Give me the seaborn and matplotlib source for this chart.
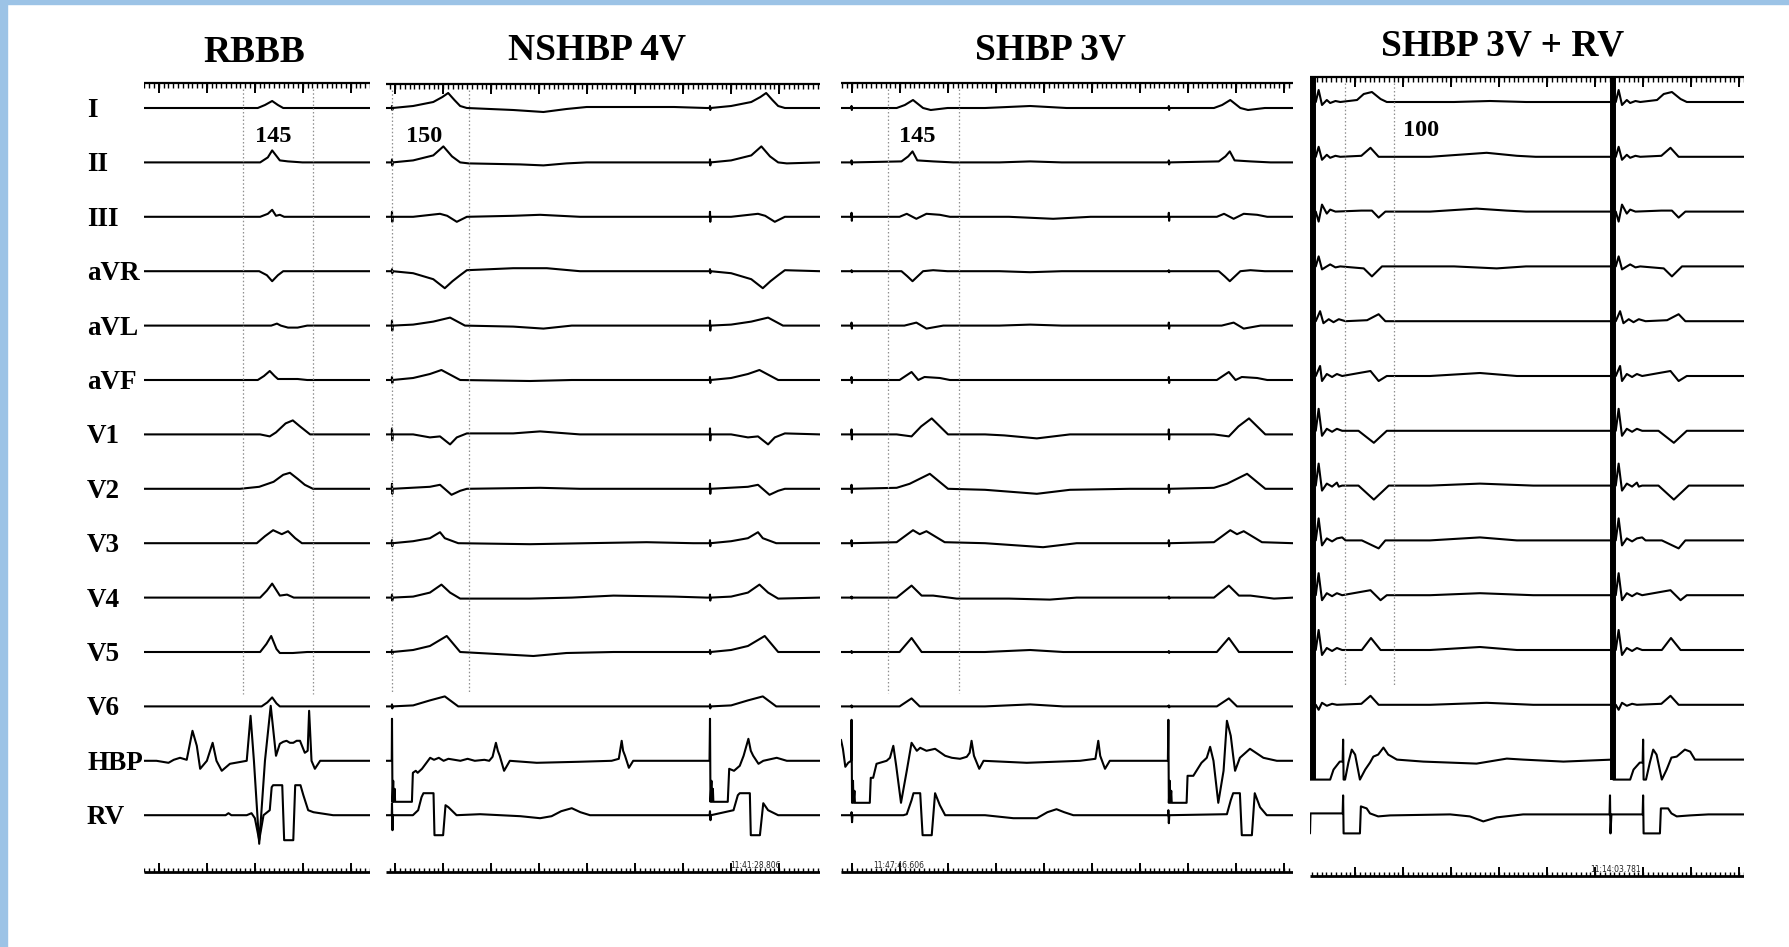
import numpy as np
import pandas as pd
import matplotlib
matplotlib.use("Agg")
import matplotlib.pyplot as plt
from matplotlib.patches import Rectangle
import seaborn as sns

# ---------------------------------------------------------------- data ----
LEADS = ["I", "II", "III", "aVR", "aVL", "aVF", "V1", "V2", "V3", "V4", "V5", "V6", "HBP", "RV"]
TITLES = ["RBBB", "NSHBP 4V", "SHBP 3V", "SHBP 3V + RV"]
QRS_MS = [145, 150, 145, 100]                 # printed QRS durations
QRS_ONSET = [206, 12, 98, 73]                 # ms, dotted calipers
QRS_OFFSET = [352, 173, 246, 175]
DURATION = [471, 904, 942, 904]               # ms shown per panel
STIMS = [[0], [12.5, 675], [22, 683], [7, 632]]   # pacing stimuli (ms)
TIMESTAMPS = [None, "11:41:28.806", "11:47:46.606", "11:14:03.781"]
TIMESTAMP_T = [None, 717, 67, 583]

# RBBB: single conducted beat, absolute ms, amplitude in 0.05 mV units
RBBB = {
    "I":   [(237, 0), (252, 3), (267, 7), (279, 3), (290, 0)],
    "II":  [(242, 0), (258, 5), (267, 12), (283, 2), (300, 1), (330, 0)],
    "III": [(242, 0), (258, 3), (267, 7), (275, 1), (283, 2), (292, 0)],
    "aVR": [(240, 0), (256, -4), (267, -10), (279, -4), (290, 0)],
    "aVL": [(265, 0), (277, 2), (285, 0), (300, -2), (320, -2), (340, 0)],
    "aVF": [(237, 0), (250, 4), (262, 9), (272, 4), (279, 1), (320, 1), (340, 0)],
    "V1":  [(242, 0), (262, -2), (275, 2), (295, 11), (310, 14), (325, 8), (346, 0)],
    "V2":  [(200, 0), (240, 2), (270, 7), (290, 14), (304, 16), (320, 10), (335, 4), (352, 0)],
    "V3":  [(235, 0), (252, 7), (269, 13), (287, 9), (300, 12), (315, 5), (329, 0)],
    "V4":  [(242, 0), (256, 7), (267, 14), (283, 2), (298, 3), (312, 0)],
    "V5":  [(242, 0), (255, 8), (265, 16), (276, 3), (283, -1), (310, -1), (340, 0)],
    "V6":  [(245, 0), (257, 4), (267, 9), (276, 3), (283, 0)],
}
RBBB_HBP = [(26, 0), (51, -2), (62, 1), (75, 3), (89, 1), (101, 30), (110, 15), (117, -8), (131, 0),
            (143, 18), (151, 0), (162, -10), (179, -3), (214, 0), (222, 45), (229, 0), (240, -83),
            (252, 0), (264, 55), (275, 5), (283, 17), (290, 19), (297, 20), (304, 18), (311, 18),
            (318, 20), (325, 20), (335, 8), (341, 10), (344, 50), (347, 20), (349, 0), (356, -8), (367, 0)]
RBBB_RV = [(170, 0), (176, 2), (182, 0), (214, 0), (224, 2), (231, -3), (240, -25), (249, 0), (262, 5),
           (266, 28), (269, 30), (288, 30), (292, -25), (311, -25), (315, 30), (326, 30), (332, 20),
           (342, 5), (353, 3), (394, 0)]

# NSHBP 4V: beat template relative to stimulus + inter-beat segment (absolute)
NS_STIM_AMP = [2, 3, 5, 2, 5, 3, 6, 5, 3, 3, 2, 2]
NS_BEAT = {
    "I":   [(44, 2), (86, 6), (105, 11), (117, 15), (130, 8), (142, 2), (156, 0)],
    "II":  [(44, 2), (86, 7), (107, 16), (125, 6), (142, 0), (160, -1)],
    "III": [(44, 0), (100, 3), (115, 1), (135, -5), (156, 0)],
    "aVR": [(44, -2), (86, -8), (110, -17), (126, -10), (142, -4), (156, 1)],
    "aVL": [(44, 1), (86, 4), (121, 8), (152, 0)],
    "aVF": [(44, 2), (79, 6), (103, 10), (142, 0)],
    "V1":  [(44, 0), (79, -3), (100, -2), (121, -10), (135, -3), (156, 1)],
    "V2":  [(79, 2), (100, 4), (124, -6), (142, -2), (156, 0)],
    "V3":  [(44, 2), (79, 5), (100, 11), (110, 5), (138, 0)],
    "V4":  [(44, 1), (79, 5), (103, 13), (121, 5), (142, -1)],
    "V5":  [(44, 2), (79, 6), (114, 16), (142, 0)],
    "V6":  [(44, 1), (79, 6), (110, 10), (138, 0)],
}
NS_GAP = {
    "I":   [(265, -2), (328, -4), (376, -1), (418, 1), (600, 1), (668, 0)],
    "II":  [(279, -2), (328, -3), (376, -1), (418, 0)],
    "III": [(265, 1), (321, 2), (404, 0)],
    "aVR": [(265, 3), (335, 3), (404, 0)],
    "aVL": [(265, -1), (328, -3), (387, 0)],
    "aVF": [(300, -1), (387, 0)],
    "V1":  [(265, 1), (321, 3), (404, 0)],
    "V2":  [(321, 1), (404, 0)],
    "V3":  [(300, -1), (418, 0), (543, 1), (640, 0)],
    "V4":  [(300, -1), (387, 0), (474, 2), (600, 1), (668, 0)],
    "V5":  [(307, -4), (376, -1), (474, 0)],
    "V6":  [],
}
NS_HBP = [(12, 0), (12.5, 42), (13.5, -41), (15, -20), (16, -41), (18, -28), (19, -41), (54, -41),
          (56, -12), (62, -10), (66, -12), (75, -8), (92, 3), (100, 1), (110, 3), (120, 0), (130, 2),
          (155, 0), (170, 2), (185, 0), (205, 1), (215, 0), (222, 4), (229, 18), (233, 10), (237, 5),
          (246, -10), (258, 0), (314, -2), (400, -1), (470, 0), (485, 2), (491, 20), (494, 10), (498, 5),
          (506, -7), (515, 0), (674, 0), (675, 42), (676, -41), (678, -20), (679, -41), (681, -28),
          (682, -41), (712, -41), (715, -8), (725, -10), (737, -5), (745, 5), (755, 22), (760, 10),
          (765, 5), (776, -3), (786, 0), (814, 3), (835, 0)]
NS_RV = [(12, 0), (12.5, 12), (13.5, -15), (14.5, 0), (56, 0), (67, 5), (74, 18), (78, 22), (99, 22),
         (101, -20), (119, -20), (124, 10), (130, 8), (147, 0), (196, 1), (280, -1), (321, -3), (345, -1),
         (365, 4), (387, 7), (405, 3), (425, 0), (674, 0), (675, 4), (676, -5), (677, 0), (724, 5),
         (733, 20), (737, 22), (758, 22), (760, -20), (779, -20), (786, 12), (796, 5), (817, 0)]

# SHBP 3V
SH_STIM_AMP = [2, 2, 4, 1, 3, 3, 5, 4, 3, 1, 1, 1]
SH_BEAT = {
    "I":   [(94, 0), (111, 3), (128, 8), (149, 0), (165, -2), (200, 0)],
    "II":  [(104, 1), (118, 6), (127, 11), (137, 2), (170, 1), (212, 0)],
    "III": [(100, 0), (115, 3), (135, -2), (156, 3), (184, 2), (205, 0)],
    "aVR": [(104, 0), (116, -5), (127, -10), (149, 0), (170, 1), (200, 0)],
    "aVL": [(110, 0), (135, 3), (156, -3), (191, 0)],
    "aVF": [(100, 0), (125, 8), (139, 0), (152, 3), (184, 2), (205, 0)],
    "V1":  [(94, 0), (125, -2), (145, 8), (167, 16), (201, 0)],
    "V2":  [(94, 1), (121, 5), (163, 15), (201, 0)],
    "V3":  [(94, 1), (128, 13), (142, 9), (156, 12), (194, 1)],
    "V4":  [(94, 0), (125, 12), (146, 2), (170, 2), (219, -1)],
    "V5":  [(100, 0), (125, 14), (146, 0)],
    "V6":  [(100, 0), (125, 8), (142, 0)],
}
SH_GAP = {
    "I":   [(300, 0), (394, 2), (470, 0)],
    "II":  [(330, 0), (394, 1), (460, 0)],
    "III": [(350, 0), (442, -2), (520, 0)],
    "aVR": [(330, 0), (394, -1), (460, 0)],
    "aVL": [(330, 0), (394, 1), (460, 0)],
    "aVF": [],
    "V1":  [(300, 0), (340, -1), (408, -4), (477, 0)],
    "V2":  [(300, -1), (408, -5), (477, -1), (602, 0)],
    "V3":  [(300, 0), (421, -4), (491, 0)],
    "V4":  [(350, -1), (435, -2), (491, 0)],
    "V5":  [(300, 0), (394, 2), (463, 0)],
    "V6":  [(300, 0), (394, 2), (463, 0)],
}
SH_HBP = [(0, 21), (4, 12), (9, -6), (15, -2), (21, 0), (22, 41), (23, -42), (25, -20), (26, -42),
          (28, -30), (29, -42), (60, -42), (62, -17), (67, -17), (74, -3), (95, 0), (102, 3), (109, 15),
          (115, -5), (125, -42), (137, -10), (147, 18), (158, 10), (165, 13), (178, 10), (196, 12),
          (217, 5), (231, 3), (248, 2), (262, 4), (268, 8), (272, 20), (277, 5), (288, -8), (297, 0),
          (387, -2), (498, 0), (530, 2), (536, 20), (540, 5), (550, -8), (560, 0), (681, 0), (682, 41),
          (683, -42), (685, -20), (686, -42), (688, -30), (689, -42), (720, -42), (722, -15), (734, -15),
          (751, -2), (762, 3), (769, 14), (776, 0), (786, -42), (797, -10), (804, 40), (812, 25),
          (817, 5), (821, -10), (831, 3), (852, 12), (880, 3), (908, 0)]
SH_RV = [(21.5, 0), (22, 3), (23, -7), (24, 0), (130, 0), (137, 1), (147, 15), (151, 22), (165, 22),
         (170, -20), (189, -20), (196, 22), (206, 10), (217, 0), (300, 0), (359, -3), (408, -3),
         (430, 3), (449, 6), (465, 3), (484, 0), (681.5, 0), (682, 5), (683, -8), (684, 0), (804, 1),
         (812, 15), (817, 22), (831, 22), (835, -20), (856, -20), (862, 22), (873, 8), (887, 0)]

# SHBP 3V + RV
SR_BEAT = {
    "I":   [(5, 0), (11, 12), (18, -3), (28, 2), (35, -1), (46, 1), (56, 0), (91, 2), (105, 8), (122, 10), (140, 3), (153, 0)],
    "II":  [(5, 0), (11, 10), (18, -3), (28, 2), (35, -1), (46, 1), (56, 0), (100, 1), (119, 9), (136, 0)],
    "III": [(5, 0), (11, -10), (18, 7), (28, -2), (35, 2), (46, 0), (100, 1), (122, 1), (136, -6), (150, 0)],
    "aVR": [(5, 0), (11, 10), (18, -3), (28, 0), (35, 2), (46, -1), (56, 0), (105, -2), (122, -10), (143, 0)],
    "aVL": [(5, 0), (14, 10), (21, -2), (32, 2), (42, -1), (53, 2), (67, 0), (112, 1), (136, 7), (150, 0)],
    "aVF": [(5, 0), (14, 10), (18, -5), (28, 2), (39, -1), (49, 2), (60, 0), (119, 5), (136, -5), (153, 0)],
    "V1":  [(5, 0), (11, 22), (18, -5), (28, 2), (39, -1), (49, 2), (60, 0), (94, 0), (126, -12), (153, 0)],
    "V2":  [(5, 0), (11, 22), (18, -5), (28, 2), (39, -1), (49, 3), (53, -1), (60, 0), (94, 0), (126, -14), (157, 0)],
    "V3":  [(5, 0), (11, 22), (18, -5), (28, 2), (39, -1), (49, 2), (60, 3), (67, 0), (101, 0), (136, -8), (150, 0)],
    "V4":  [(5, 0), (11, 22), (18, -5), (28, 2), (39, -1), (49, 2), (60, 0), (119, 5), (140, -5), (153, 0)],
    "V5":  [(5, 0), (11, 20), (18, -5), (28, 2), (39, -1), (49, 2), (60, 0), (101, 0), (120, 12), (140, 0)],
    "V6":  [(5, 0), (11, -5), (18, 2), (28, -1), (39, 1), (49, 0), (100, 1), (119, 9), (136, 0)],
}
SR_GAP = {
    "I":   [(300, 0), (375, 1), (450, 0)],
    "II":  [(250, 0), (368, 4), (431, 1), (470, 0)],
    "III": [(250, 0), (347, 3), (410, 1), (450, 0)],
    "aVR": [(300, 0), (389, -2), (450, 0)],
    "aVL": [],
    "aVF": [(250, 0), (354, 3), (431, 0)],
    "V1":  [],
    "V2":  [(250, 0), (354, 2), (465, 0)],
    "V3":  [(250, 0), (354, 3), (431, 0)],
    "V4":  [(250, 0), (354, 2), (465, 0)],
    "V5":  [(250, 0), (354, 3), (431, 0)],
    "V6":  [(250, 0), (368, 2), (465, 0)],
}
SR_HBP = [(0, -20), (42, -20), (49, -10), (62, -2), (68, -2), (69, 20), (70, -20), (73, -20), (80, -3),
          (87, 10), (94, 5), (104, -20), (115, -10), (125, -3), (132, 3), (142, 5), (153, 12), (163, 5),
          (181, 0), (236, -2), (347, -4), (410, 1), (444, 0), (528, -2), (630, 0), (632, -20), (667, -20),
          (674, -10), (687, -3), (693, -3), (694, 20), (695, -20), (700, -20), (708, -3), (715, 10),
          (722, 5), (733, -20), (743, -10), (753, 2), (764, 3), (781, 10), (792, 8), (802, 0)]
SR_RV = [(0, -19), (1, 1), (68, 1), (69, 19), (70, -19), (104, -19), (106, 8), (118, 6), (125, 1),
         (142, -2), (167, -1), (292, 0), (333, -2), (361, -7), (389, -3), (444, 0), (624, 0), (625, 19),
         (626, -19), (628, 0), (635, 0), (693, 0), (694, 19), (695, -19), (729, -19), (731, 6), (746, 6),
         (753, 1), (764, -2), (792, -1), (830, 0)]

# --------------------------------------------------------------- layout ----
W, H = 1789, 947
PX_PER_MS = 0.48
PANEL_X0 = [144, 386, 841, 1310]
ROW0 = [108, 108, 108, 102]
ROW_STEP = [54.4, 54.4, 54.4, 54.8]
TOP_RULER_Y = [83, 84, 83, 77]
BOT_RULER_Y = [872, 872, 872, 876]
RULER_PHASE = [31, 19, 23, 94]
TITLE_CX = [254, 597, 1050, 1503]
TITLE_BASE = [62, 60, 60, 56]
QRS_LABEL_T = [231, 42, 121, 194]
QRS_LABEL_Y = [142, 142, 142, 136]
DOT_BOTTOM = [694, 692, 693, 686]


def surface_trace(beat, gap, stims, stim_amp, dur):
    pts = [(0.0, 0.0)]
    for k, s in enumerate(stims):
        if stim_amp:
            pts += [(s - 0.6, 0.0), (s, stim_amp), (s + 0.6, -stim_amp), (s + 1.2, 0.0)]
        pts += [(s + dt, a) for dt, a in beat]
        if k == 0:
            pts += list(gap)
    pts.append((dur, 0.0))
    return pts


def abs_trace(points, dur):
    return [(0.0, points[0][1] if points[0][0] == 0 else 0.0)] + list(points) + [(dur, 0.0)]


panels = []
for p in range(4):
    dur = DURATION[p]
    traces = {}
    for i, lead in enumerate(LEADS[:12]):
        if p == 0:
            traces[lead] = surface_trace(RBBB[lead], [], [0], 0, dur)
        elif p == 1:
            traces[lead] = surface_trace(NS_BEAT[lead], NS_GAP[lead], STIMS[1], NS_STIM_AMP[i], dur)
        elif p == 2:
            traces[lead] = surface_trace(SH_BEAT[lead], SH_GAP[lead], STIMS[2], SH_STIM_AMP[i], dur)
        else:
            traces[lead] = surface_trace(SR_BEAT[lead], SR_GAP[lead], STIMS[3], 0, dur)
    hbp = [RBBB_HBP, NS_HBP, SH_HBP, SR_HBP][p]
    rv = [RBBB_RV, NS_RV, SH_RV, SR_RV][p]
    traces["HBP"] = abs_trace(hbp, dur)
    traces["RV"] = abs_trace(rv, dur)
    rows = []
    for i, lead in enumerate(LEADS):
        base = ROW0[p] + ROW_STEP[p] * i
        for t, a in traces[lead]:
            rows.append({"t": t, "y": base - a, "trace": lead})
    panels.append(pd.DataFrame(rows))

# ----------------------------------------------------------------- plot ----
sns.set_theme(style="white")
plt.rcParams["font.family"] = ["Liberation Serif", "DejaVu Serif"]
plt.rcParams["text.color"] = "black"

fig = plt.figure(figsize=(W / 100, H / 100), dpi=100)
fig.patch.set_facecolor("white")
BLUE = "#9cc3e6"
fig.patches.append(Rectangle((0, 0), 7 / W, 1, transform=fig.transFigure, color=BLUE, zorder=0))
fig.patches.append(Rectangle((0, 1 - 4 / H), 1, 4 / H, transform=fig.transFigure, color=BLUE, zorder=0))

for p in range(4):
    dur = DURATION[p]
    wpx = dur * PX_PER_MS
    ax = fig.add_axes([PANEL_X0[p] / W, 0, wpx / W, 1])
    ax.set_facecolor("none")
    sns.lineplot(data=panels[p], x="t", y="y", units="trace", estimator=None, sort=False,
                 color="black", linewidth=1.5, ax=ax, legend=False)
    ax.set_xlim(0, dur)
    ax.set_ylim(H, 0)
    ax.axis("off")

    # rulers
    ticks = np.arange(RULER_PHASE[p] % 10, dur + 0.1, 10)
    majors = np.arange(RULER_PHASE[p], dur + 0.1, 100)
    ty, by = TOP_RULER_Y[p], BOT_RULER_Y[p]
    ax.hlines(ty, 0, dur, color="black", lw=1.6)
    ax.vlines(ticks, ty, ty + 5, color="black", lw=1.0)
    ax.vlines(majors, ty, ty + 10, color="black", lw=1.4)
    ax.hlines(by, 0, dur, color="black", lw=2.0)
    ax.vlines(ticks, by - 4.5, by, color="black", lw=1.0)
    ax.vlines(majors, by - 9, by, color="black", lw=1.4)
    if TIMESTAMPS[p]:
        ax.text(TIMESTAMP_T[p], by - 2, TIMESTAMPS[p], fontsize=5.5, ha="left", va="bottom",
                family=["DejaVu Sans"], color="#222222")

    # QRS calipers
    ax.vlines([QRS_ONSET[p], QRS_OFFSET[p]], ty + 6, DOT_BOTTOM[p], color="#8f8f8f",
              lw=0.9, linestyles=(0, (1.2, 1.8)))
    ax.text(QRS_LABEL_T[p], QRS_LABEL_Y[p], str(QRS_MS[p]), fontsize=17.5, fontweight="bold",
            ha="left", va="baseline", color="black")

    # pacing artefacts saturating all channels in the last panel
    if p == 3:
        ax.vlines(STIMS[3], ty, ROW0[p] + ROW_STEP[p] * 12 + 20, color="black", lw=4.3)

    fig.text(TITLE_CX[p] / W, 1 - TITLE_BASE[p] / H, TITLES[p], fontsize=27, fontweight="bold",
             ha="center", va="baseline", color="black")

for i, lead in enumerate(LEADS):
    y = ROW0[0] + ROW_STEP[0] * i + 9
    fig.text(87 / W, 1 - y / H, lead, fontsize=19.5, fontweight="bold", ha="left", va="baseline",
             color="black")

fig.savefig("out.png", dpi=100, facecolor="white")
